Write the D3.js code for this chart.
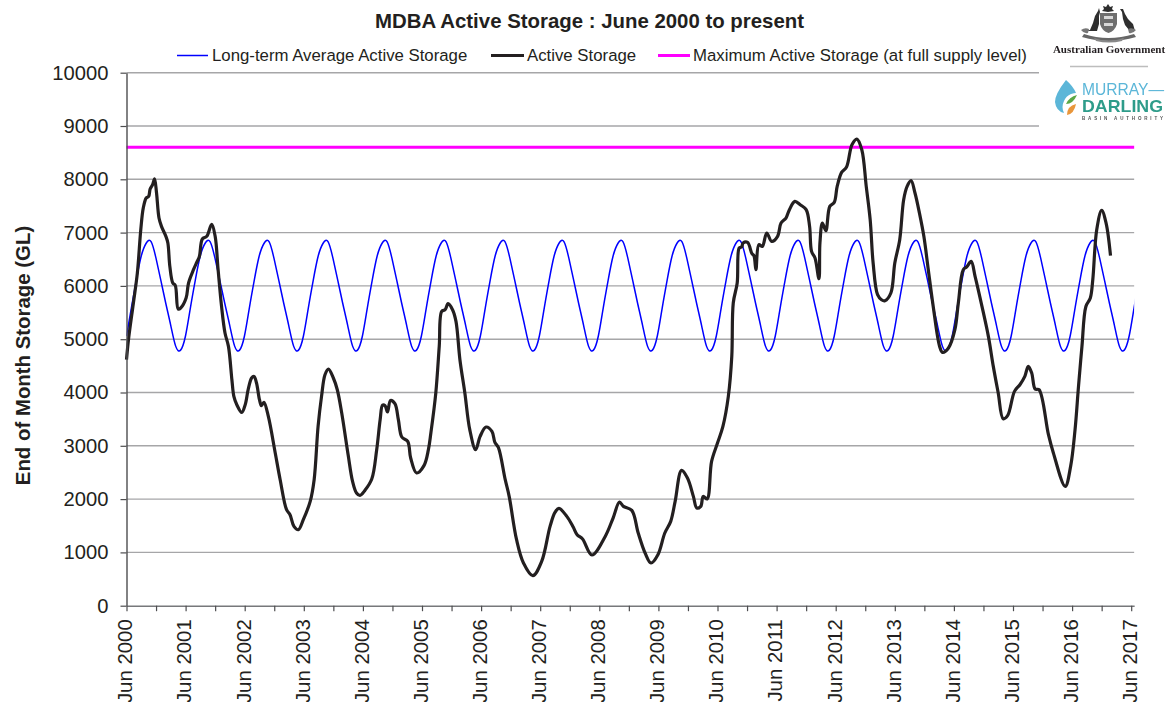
<!DOCTYPE html>
<html>
<head>
<meta charset="utf-8">
<script src="https://cdn.jsdelivr.net/npm/d3@7"></script>
<style>
  html, body { margin: 0; padding: 0; background: #fff; overflow: hidden; }
  text { font-family: "Liberation Sans", Arial, sans-serif; fill: #231f20; }
</style>
</head>
<body>
<div id="chart"></div>
<script>
// months since Jun 2000
const activeMonths = [0,0.4,1.4,2.2,2.9,3.4,4,4.5,4.8,5.3,5.7,6.1,6.6,7.1,8,8.4,8.8,9.4,9.9,10.5,11,12.1,12.6,13.6,14.3,14.8,15.4,16.3,17.3,18,18.6,19.3,20,20.7,21.4,21.8,22.4,23.4,24.1,24.7,25.4,25.9,26.4,27,27.4,27.9,28.8,30.2,31.2,32.5,33.2,34,34.9,35.9,37.3,38.1,38.9,39.6,40.3,41,42,42.8,43.7,45,45.9,46.7,47.4,48.4,49.8,50.8,51.5,52,52.5,53,53.6,54.5,55.2,55.9,57.1,57.7,58.9,60.4,61.3,61.8,62.8,63.5,64,64.7,65.3,66.2,66.9,67.7,68.7,69.7,70.9,71.8,73,74.2,74.8,75.5,76.9,77.7,79.2,80.6,82.5,84.3,86,87,87.8,89.4,90.7,91.5,92.6,94.5,97.2,98.8,100.1,100.9,102.6,103.9,105.3,106.5,107.9,109.3,110.5,111.4,112.7,113.9,115.1,115.8,116.6,117.1,117.9,118.8,120,121.1,122.2,122.9,123.2,124,124.4,124.9,125.2,126.1,127,127.4,127.8,128.4,129.1,130,131,132.2,132.9,133.9,134.6,135.7,136.8,138,138.7,139.1,139.8,140.6,140.8,141.3,142,142.8,143.7,144.3,145.2,146.2,147.3,148.3,149.3,150.2,151,151.6,152.5,153.3,154,155.2,156,157,157.8,158.5,159.3,160.1,161,161.9,162.8,163.8,165.1,165.7,166.9,168.2,168.9,169.9,170.6,171.5,172.3,173.7,175,176,177,178,178.9,180.3,181.4,182.4,183.1,183.8,184.5,185.3,187.2,188.2,190.6,191.7,192.6,193.3,194,194.8,195.7,196.2,197,198,198.9,199.8];
const activeValues = [4615,4990,5680,6240,7055,7460,7650,7680,7818,7900,8010,7743,7273,7117,6930,6805,6366,6055,6010,5566,5585,5773,6055,6304,6448,6554,6880,6930,7154,6930,6304,5615,5116,4865,4240,3927,3771,3627,3771,4052,4272,4302,4178,3865,3752,3814,3552,2865,2364,1801,1707,1488,1426,1613,1957,2364,3364,3927,4334,4440,4272,4052,3615,2833,2332,2114,2069,2163,2377,2927,3490,3765,3752,3634,3852,3790,3490,3165,3083,2771,2490,2627,2927,3240,3990,4865,5522,5553,5666,5553,5334,4615,3990,3302,2927,3177,3352,3270,3064,2970,2364,2051,1238,801,563,831,1488,1751,1826,1676,1476,1332,1251,951,1300,1645,1945,1863,1788,1364,989,801,957,1364,1582,1957,2538,2396,2051,1833,1863,2051,2002,2707,3052,3364,3927,4677,5680,6055,6711,6730,6805,6816,6604,6567,6304,6773,6741,6992,6835,6930,7180,7273,7430,7586,7523,7430,7117,6647,6523,6135,6805,7180,7036,7492,7567,7867,8130,8230,8649,8755,8555,7867,7242,6430,5835,5741,5722,5867,6430,6867,7617,7867,7974,7743,7368,6930,6304,5615,4865,4752,4835,5178,5680,6304,6355,6460,6178,5615,5053,4490,3990,3508,3565,4021,4146,4302,4490,4365,4065,4052,3208,2865,2238,2613,3302,4115,4865,5615,5773,6116,7055,7417,7180,6567];

// long-term average for each month of the year, Jun to May
const averageByMonth = [5060,5590,6110,6560,6800,6830,6520,6100,5670,5260,4870,4795];
const lastMonth = 204.6;
const fullSupply = 8600;

const yTicks = [0,1000,2000,3000,4000,5000,6000,7000,8000,9000,10000];
const xTickYears = [2000,2001,2002,2003,2004,2005,2006,2007,2008,2009,2010,2011,2012,2013,2014,2015,2016,2017];

const legendLabels = ["Long-term Average Active Storage", "Active Storage", "Maximum Active Storage (at full supply level)"];

const width = 1172, height = 702;
const x = d3.scaleLinear().domain([0, lastMonth]).range([126.5, 126.5 + 59.1 * lastMonth / 12]);
// the average line runs a hair short of the tick spacing in the original
const xAverage = d3.scaleLinear().domain([0, 12]).range([126.5, 126.5 + 58.98]);
const y = d3.scaleLinear().domain([0, 10000]).range([605.7, 72.7]);

const svg = d3.select("#chart").append("svg")
    .attr("width", width)
    .attr("height", height)
    .style("display", "block");

svg.append("clipPath").attr("id", "plot-clip").append("rect")
    .attr("x", x(0)).attr("y", 0).attr("width", x(lastMonth) - x(0)).attr("height", height);

// gridlines
svg.append("g").selectAll("line")
    .data(yTicks.filter(d => d > 0))
    .join("line")
    .attr("x1", x(0))
    .attr("x2", x(lastMonth))
    .attr("y1", d => y(d))
    .attr("y2", d => y(d))
    .attr("stroke", "#a6a6a8")
    .attr("stroke-width", 1.4);

// the monthly average repeats every year
const averageData = d3.range(0, 207).map(m => [m, averageByMonth[m % 12]]);
const activeData = activeMonths.map((m, i) => [m, activeValues[i]]);

const averageLine = d3.line().x(d => xAverage(d[0])).y(d => y(d[1])).curve(d3.curveNatural);
const activeLine = d3.line().x(d => x(d[0])).y(d => y(d[1])).curve(d3.curveCatmullRom.alpha(0.5));
const flatLine = d3.line().x(d => x(d[0])).y(d => y(d[1]));

svg.append("path")
    .attr("d", averageLine(averageData))
    .attr("clip-path", "url(#plot-clip)")
    .attr("fill", "none")
    .attr("stroke", "#0000ff")
    .attr("stroke-width", 1.5);

svg.append("path")
    .attr("d", flatLine([[0, fullSupply], [lastMonth, fullSupply]]))
    .attr("fill", "none")
    .attr("stroke", "#ff00ff")
    .attr("stroke-width", 3);

svg.append("path")
    .attr("d", activeLine(activeData))
    .attr("fill", "none")
    .attr("stroke", "#231f20")
    .attr("stroke-width", 3.2)
    .attr("stroke-linejoin", "round");

// axes
const yAxis = d3.axisLeft(y).tickValues(yTicks).tickSize(6).tickSizeOuter(0).tickPadding(12).tickFormat(d3.format("d"));
const gy = svg.append("g").attr("transform", `translate(${x(0)},0)`).call(yAxis);
gy.selectAll("text").attr("font-size", 20.2).style("font-family", null);
gy.select(".domain").attr("stroke", "#4d4d4f").attr("stroke-width", 1.4);
gy.selectAll(".tick line").attr("stroke", "#4d4d4f").attr("stroke-width", 1.2);

const halfYears = d3.range(0, 205, 6);
const xAxis = d3.axisBottom(x).tickValues(halfYears).tickSize(5.5).tickSizeOuter(0)
    .tickFormat(d => d % 12 === 0 ? "Jun " + xTickYears[d / 12] : "");
const gx = svg.append("g").attr("transform", `translate(0,${y(0)})`).call(xAxis);
gx.select(".domain").attr("stroke", "#77787b").attr("stroke-width", 1.4);
gx.selectAll(".tick line").attr("stroke", "#4d4d4f").attr("stroke-width", 1.2);
gx.selectAll("text")
    .attr("font-size", 20.4)
    .attr("text-anchor", "end")
    .attr("dominant-baseline", "middle")
    .attr("transform", "rotate(-90)")
    .attr("x", -13.5)
    .attr("y", 0)
    .attr("dy", "0");

// title and axis title
svg.append("text").attr("x", 589.5).attr("y", 27.5)
    .attr("text-anchor", "middle").attr("font-size", 20.4).attr("font-weight", "bold")
    .text("MDBA Active Storage : June 2000 to present");

svg.append("text").attr("transform", "translate(30,355.5) rotate(-90)")
    .attr("text-anchor", "middle").attr("font-size", 20.4).attr("font-weight", "bold")
    .text("End of Month Storage (GL)");

// legend
const legendRows = [
    { x1: 177, x2: 208, tx: 212, color: "#0000ff", w: 1.5 },
    { x1: 491, x2: 524, tx: 527, color: "#231f20", w: 3 },
    { x1: 658, x2: 690, tx: 693, color: "#ff00ff", w: 3 }
];
const legend = svg.append("g");
legendRows.forEach((r, i) => {
    legend.append("line").attr("x1", r.x1).attr("x2", r.x2).attr("y1", 55.5).attr("y2", 55.5)
        .attr("stroke", r.color).attr("stroke-width", r.w);
    legend.append("text").attr("x", r.tx).attr("y", 61.3).attr("font-size", 16.8).text(legendLabels[i]);
});

// logo block sits on white over the gridlines
svg.append("rect").attr("x", 1039).attr("y", 0).attr("width", 133).attr("height", 129).attr("fill", "#fff");
const blur = svg.append("filter").attr("id", "soft");
blur.append("feGaussianBlur").attr("stdDeviation", 0.45);
const logo = svg.append("g").attr("filter", "url(#soft)");

// crest, rough: star, shield, kangaroo, emu, wreath
const crest = logo.append("g").attr("fill", "#2e2e2e");
crest.append("path").attr("d", "M1108 4 l2 3 l3 -1 l-1 3 l2 2 l-6 1 l-6 -1 l2 -2 l-1 -3 l3 1 z");
crest.append("path").attr("d", "M1100 13 h17 v11 q-2 7 -8.5 9 q-6.500 -2 -8.500 -9 z").attr("fill", "#6e6e6e");
crest.append("path").attr("d", "M1104 16 h9 v3 h-9 z M1104 23 h9 v3 h-9 z").attr("fill", "#d8d8d8");
crest.append("path").attr("d", "M1084 31 l6 -1 l3 -7 l2 -7 l3 -5 l1 -3 l1 4 l-1 4 l0 8 l-2 7 l-5 0 z");
crest.append("path").attr("d", "M1135 31 l-6 -1 l-4 -5 l-2 -6 l-1 -7 l-2 -3 l3 0 l2 5 l3 5 l5 5 z");
crest.append("path").attr("d", "M1081 30 q4 -3 8 -1 l-1 4 q-4 1 -7 -3 z M1136 30 q-4 -3 -8 -1 l1 4 q4 1 7 -3 z").attr("fill", "#777");
crest.append("path").attr("d", "M1084 34 q24 8 50 0 l2 3 q-27 8 -54 0 z").attr("fill", "#666");
crest.append("path").attr("d", "M1094 38 q14 5 30 0 l-2 3 q-13 3 -26 0 z").attr("fill", "#888");

logo.append("text").attr("x", 1109).attr("y", 52.5)
    .attr("text-anchor", "middle").attr("font-size", 11).attr("font-weight", "bold")
    .style("font-family", '"Liberation Serif", serif')
    .text("Australian Government");
logo.append("line").attr("x1", 1070).attr("x2", 1148).attr("y1", 66.5).attr("y2", 66.5)
    .attr("stroke", "#bdbdbd").attr("stroke-width", 1.5);

// drop
logo.append("path").attr("d", "M1066 80 q-11 14 -11 22 q1 9 9 11 q-3 -6 0 -12 q2 -5 7 -7 q3 -1 5 -1 q-3 -7 -10 -13 z").attr("fill", "#5bb6d8");
logo.append("path").attr("d", "M1077 95 q-8 2 -11 9 q7 0 11 -9 z").attr("fill", "#5aa846");
logo.append("path").attr("d", "M1076 104 q-9 2 -9 11 q7 -1 9 -11 z").attr("fill", "#e9963a");

logo.append("text").attr("x", 1082).attr("y", 95).attr("font-size", 16)
    .attr("textLength", 82).attr("lengthAdjust", "spacingAndGlyphs")
    .style("fill", "#5bb6d8").text("MURRAY—");
logo.append("text").attr("x", 1082).attr("y", 112).attr("font-size", 17).attr("font-weight", "bold")
    .attr("textLength", 81).attr("lengthAdjust", "spacingAndGlyphs")
    .style("fill", "#2e9c8a").text("DARLING");
logo.append("text").attr("x", 1082).attr("y", 120).attr("font-size", 4.5)
    .attr("textLength", 81).attr("font-weight", "bold")
    .style("fill", "#555").text("BASIN AUTHORITY");
</script>
</body>
</html>
